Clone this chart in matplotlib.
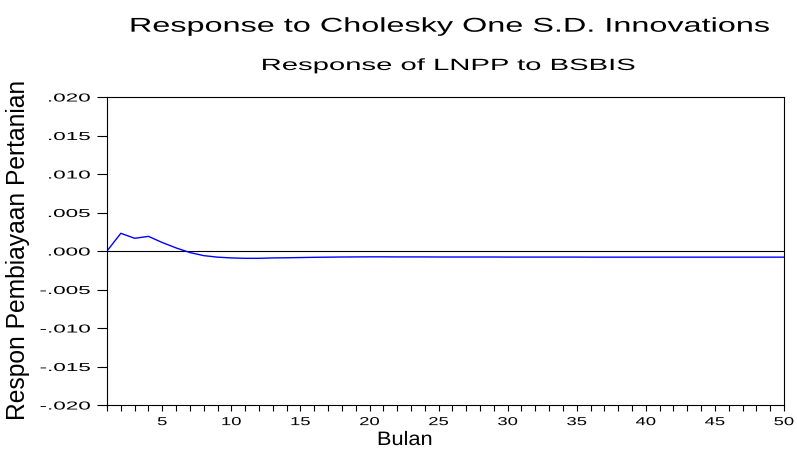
import matplotlib
matplotlib.use('Agg')
import matplotlib.pyplot as plt
from matplotlib.ticker import FuncFormatter, MultipleLocator
from matplotlib.patheffects import AbstractPathEffect
from matplotlib.transforms import Affine2D

# impulse response of LNPP to a BSBIS shock
periods = list(range(1, 51))
response = [0.0, 0.0023, 0.00165, 0.0019, 0.0011, 0.0004, -0.0002, -0.0006,
            -0.0008, -0.0009, -0.00095, -0.00095, -0.0009, -0.00088, -0.00085,
            -0.00082, -0.0008, -0.00078, -0.00077, -0.00076, -0.00076,
            -0.00077, -0.00077, -0.00077, -0.00078, -0.00078, -0.00078,
            -0.00078, -0.00078, -0.00079, -0.00079, -0.00079, -0.00079,
            -0.00079, -0.00079, -0.0008, -0.0008, -0.0008, -0.0008, -0.0008,
            -0.0008, -0.0008, -0.0008, -0.0008, -0.0008, -0.0008, -0.0008,
            -0.0008, -0.0008, -0.0008]
yticks = [-0.020, -0.015, -0.010, -0.005, 0.000, 0.005, 0.010, 0.015, 0.020]
xticks = [5, 10, 15, 20, 25, 30, 35, 40, 45, 50]


class Stretch(AbstractPathEffect):
    """widen the text glyphs horizontally (the EViews fonts look stretched)"""
    def __init__(self, sx, anchor='center'):
        super().__init__()
        self.sx = sx
        self.anchor = anchor

    def draw_path(self, renderer, gc, tpath, affine, rgbFace=None):
        ext = tpath.get_extents()
        if self.anchor == 'right':
            cx = ext.x1
        elif self.anchor == 'left':
            cx = ext.x0
        else:
            cx = (ext.x0 + ext.x1) / 2
        t = Affine2D().translate(-cx, 0).scale(self.sx, 1).translate(cx, 0) + affine
        renderer.draw_path(gc, tpath, t, rgbFace)


plt.rcParams['font.family'] = ['Liberation Sans', 'DejaVu Sans']

W, H = 797, 450
fig = plt.figure(figsize=(W / 100, H / 100), dpi=100)
ax = fig.add_axes([107 / W, 45 / H, 677 / W, 308 / H])

ax.axhline(0, color='black', lw=0.8)
ax.plot(periods, response, color='#0000ff', lw=1.0)

ax.set_xlim(1, 50)
ax.set_ylim(-0.020, 0.020)
ax.set_yticks(yticks)
ax.set_xticks(xticks)
ax.xaxis.set_minor_locator(MultipleLocator(1))

def fmt(v, pos):
    s = '%.3f' % v
    if s.startswith('-0'):
        s = '-' + s[2:]
    elif s.startswith('0'):
        s = s[1:]
    return s

ax.yaxis.set_major_formatter(FuncFormatter(fmt))
ax.tick_params(axis='y', which='major', direction='out', length=7,
               width=0.8, labelsize=8.3, pad=5)
ax.tick_params(axis='x', which='major', direction='out', length=4,
               width=0.8, labelsize=8.3, pad=4)
ax.tick_params(axis='x', which='minor', direction='out', length=4, width=0.8)
for s in ax.spines.values():
    s.set_linewidth(0.8)

fig.text(449.5 / W, 1 - 31.7 / H, 'Response to Cholesky One S.D. Innovations',
         ha='center', va='baseline', fontsize=14.4,
         path_effects=[Stretch(1.62)])
fig.text(448.5 / W, 1 - 70 / H, 'Response of LNPP to BSBIS',
         ha='center', va='baseline', fontsize=11.7,
         path_effects=[Stretch(1.8)])
fig.text(405 / W, 1 - 445 / H, 'Bulan', ha='center', va='baseline',
         fontsize=14, path_effects=[Stretch(1.12)])
fig.text(25 / W, 1 - 250 / H, 'Respon Pembiayaan Pertanian',
         rotation=90, rotation_mode='anchor', ha='center', va='baseline',
         fontsize=17.7)

# ticks are built at draw time, so stretch their labels after a first draw
fig.canvas.draw()
for tick in ax.yaxis.get_major_ticks():
    tick.label1.set_path_effects([Stretch(1.95, 'right')])
for tick in ax.xaxis.get_major_ticks():
    tick.label1.set_path_effects([Stretch(1.6)])

fig.savefig('out.png', dpi=100)
